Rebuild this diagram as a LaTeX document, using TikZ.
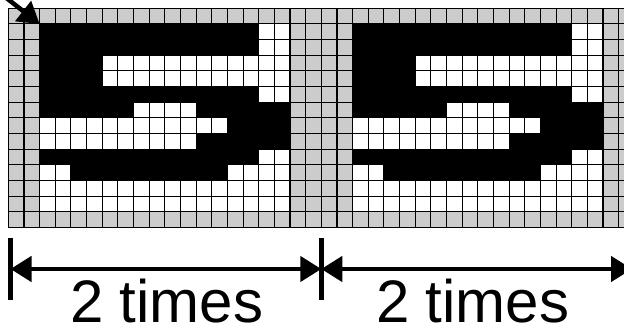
\documentclass[tikz,border=0pt]{standalone}
\usepackage{fontspec}
\setmainfont{Liberation Sans}
\usetikzlibrary{arrows.meta, calc}

\begin{document}
\begin{tikzpicture}[
  x=1pt, y=-1pt,
  greycell/.style={fill=black!20},
  inkcell/.style={fill=black},
  cellgrid/.style={draw=black, line width=1.1pt},
  tickline/.style={line width=4.5pt},
  dimarrow/.style={line width=4.5pt, {Triangle[length=21pt, width=25pt]}-{Triangle[length=21pt, width=25pt]}},
  pointer/.style={line width=4.5pt, -{Triangle[length=21pt, width=25pt]}},
  dimlabel/.style={font=\fontsize{60}{72}\selectfont, inner sep=0pt, anchor=base}
]
\useasboundingbox (0,0) rectangle (624,328);

% Pixel grid: two identical tiles of 20 x 14 cells
\begin{scope}[shift={(8.3,8.3)}, x=15.65pt, y=-15.65pt]
  \fill[greycell] (0,0) rectangle (40,14);
  \foreach \p in {0,20}
    \fill[white] (\p+2,1) rectangle (\p+18,13);
  % digit strokes: row / first cell / last cell
  \foreach \p in {0,20}
    \foreach \r/\a/\b in {1/0/13, 2/0/13, 3/0/3, 4/0/3, 5/0/13, 6/0/5, 6/10/15, 7/12/15, 8/10/15, 9/0/13, 10/2/11}
      \fill[inkcell] (\p+2+\a,\r) rectangle (\p+3+\b,\r+1);
  \foreach \c in {0,...,40}
    \draw[cellgrid] (\c,0) -- (\c,14);
  \foreach \r in {0,...,14}
    \draw[cellgrid] (0,\r) -- (40,\r);
  \coordinate (digitcorner) at (2,1);
\end{scope}

% Start pointer
\coordinate (pointerstart) at (0,-7);
\draw[pointer] (pointerstart) -- (digitcorner);

% Dimension ticks
\foreach \n/\x in {L/10.5, M/321.3, R/632} {
  \coordinate (tick\n) at (\x,269);
  \coordinate (tick\n top) at (\x,238);
  \coordinate (tick\n bot) at (\x,300);
  \draw[tickline] (tick\n top) -- (tick\n bot);
}

% Dimension arrows
\draw[dimarrow] (tickL) -- (tickM);
\draw[dimarrow] (tickM) -- (tickR);

\node[dimlabel] (leftcount) at (166.7,323) {2 times};
\node[dimlabel] (rightcount) at (472.7,323) {2 times};

\end{tikzpicture}
\end{document}
